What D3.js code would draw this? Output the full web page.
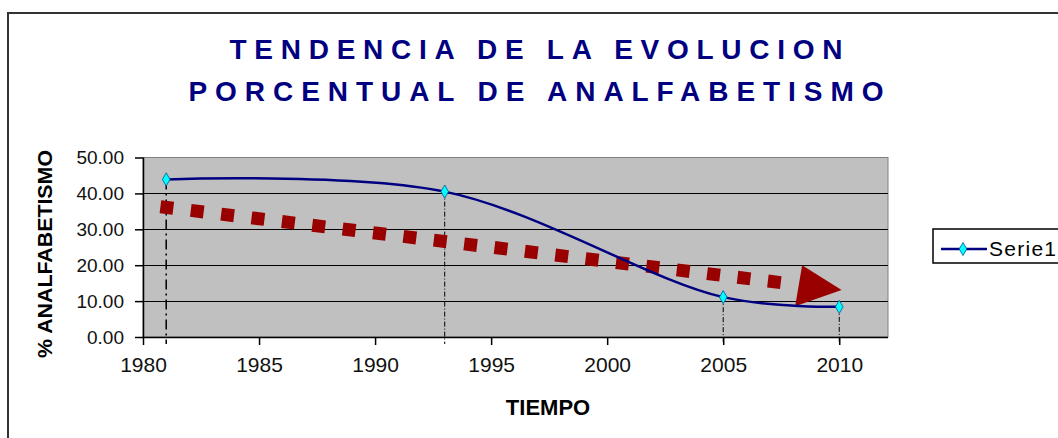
<!DOCTYPE html>
<html><head><meta charset="utf-8">
<script src="https://cdn.jsdelivr.net/npm/d3@7"></script>
<style>
body{margin:0;background:#fff;overflow:hidden}
svg{display:block}
text{font-family:"Liberation Sans",Arial,sans-serif}
</style>
</head><body>
<svg id="c" width="1058" height="438"></svg>
<script>
// ---- data ----
const titleLines = ["TENDENCIA DE LA EVOLUCION", "PORCENTUAL DE ANALFABETISMO"];
const years = [1981, 1993, 2005, 2010];
const serie1 = [43.9, 40.5, 11.1, 8.4];
const seriesName = "Serie1";
const xTicks = [1980, 1985, 1990, 1995, 2000, 2005, 2010];
const yTicks = [0, 10, 20, 30, 40, 50];
const xDomain = [1980, 2012.1];
const yDomain = [0, 50];
const xLabel = "TIEMPO";
const yLabel = "% ANALFABETISMO";
// trend arrow annotation (in data units: year, %)
const trendStart = [1980.75, 36.3];
const trendEnd = [2007.55, 15.1];
const arrowHead = [[2008.4, 20.0], [2010.1, 13.1], [2008.1, 8.6]];

// ---- layout ----
const svg = d3.select("#c");
const plot = {left: 143, right: 888, top: 157.5, bottom: 337};
const x = d3.scaleLinear().domain(xDomain).range([plot.left, plot.right]);
const y = d3.scaleLinear().domain(yDomain).range([plot.bottom, plot.top]);
const navy = "#000080", red = "#990000";

// outer frame
svg.append("rect").attr("x", 8).attr("y", 13).attr("width", 1070).attr("height", 450)
  .attr("fill", "none").attr("stroke", "#333").attr("stroke-width", 2);

// title
svg.selectAll(".title").data(titleLines).join("text")
  .attr("x", 536).attr("y", (d, i) => 59 + i * 42)
  .attr("text-anchor", "middle")
  .attr("font-size", 28).attr("font-weight", "bold").attr("fill", navy)
  .attr("textLength", (d, i) => [613, 695][i]).attr("lengthAdjust", "spacing")
  .text(d => d);

// plot background
svg.append("rect").attr("x", plot.left).attr("y", plot.top)
  .attr("width", plot.right - plot.left).attr("height", plot.bottom - plot.top)
  .attr("fill", "#C0C0C0").attr("stroke", "#808080").attr("stroke-width", 1);

// gridlines
svg.append("g").selectAll("line").data(yTicks.filter(d => d > 0 && d < 50)).join("line")
  .attr("x1", plot.left).attr("x2", plot.right)
  .attr("y1", d => Math.round(y(d)) + 0.5).attr("y2", d => Math.round(y(d)) + 0.5)
  .attr("stroke", "#000").attr("stroke-width", 1);

// axes
const yAxis = svg.append("g").attr("transform", `translate(${plot.left},0)`)
  .call(d3.axisLeft(y).tickValues(yTicks).tickFormat(d3.format(".2f")).tickSize(8).tickPadding(11));
yAxis.selectAll("text").attr("font-size", 19).attr("fill", "#111").style("font-family", '"Liberation Sans",Arial,sans-serif');
const xAxis = svg.append("g").attr("transform", `translate(0,${plot.bottom})`)
  .call(d3.axisBottom(x).tickValues(xTicks).tickFormat(d3.format("d")).tickSize(8).tickPadding(12).tickSizeOuter(0));
xAxis.selectAll("text").attr("font-size", 21).attr("fill", "#111").style("font-family", '"Liberation Sans",Arial,sans-serif');
[yAxis, xAxis].forEach(a => a.selectAll("path,line").attr("stroke", "#000").attr("stroke-width", 1.5));
yAxis.select(".domain").attr("d", `M0.5,${plot.top}V${plot.bottom}`);
xAxis.select(".domain").attr("d", `M${plot.left},0.5H${plot.right}`);

// axis titles
svg.append("text").attr("x", 548).attr("y", 415).attr("text-anchor", "middle")
  .attr("font-size", 22).attr("font-weight", "bold").attr("fill", "#000").text(xLabel);
svg.append("text").attr("transform", "translate(52,254) rotate(-90)").attr("text-anchor", "middle")
  .attr("font-size", 21).attr("font-weight", "bold").attr("fill", "#000")
  .attr("textLength", 208).attr("lengthAdjust", "spacingAndGlyphs").text(yLabel);

const pts = years.map((yr, i) => [yr, serie1[i]]);

// drop lines
const dropDash = ["10,4,2,4", "5,2,1,2", "5,2,1,2", "5,2,1,2"];
const dropWidth = [1.5, 1, 1, 1];
svg.append("g").selectAll("line").data(pts).join("line")
  .attr("x1", d => x(d[0])).attr("x2", d => x(d[0]))
  .attr("y1", d => y(d[1])).attr("y2", plot.bottom + 7)
  .attr("stroke", "#000").attr("stroke-width", (d, i) => dropWidth[i])
  .attr("stroke-dasharray", (d, i) => dropDash[i]);

// trend dotted arrow
svg.append("line")
  .attr("x1", x(trendStart[0])).attr("y1", y(trendStart[1]))
  .attr("x2", x(trendEnd[0])).attr("y2", y(trendEnd[1]))
  .attr("stroke", red).attr("stroke-width", 13).attr("stroke-dasharray", "13,17.6");
svg.append("path")
  .attr("d", d3.line().x(d => x(d[0])).y(d => y(d[1]))(arrowHead) + "Z")
  .attr("fill", red);

// series line
svg.append("path")
  .attr("d", d3.line().x(d => x(d[0])).y(d => y(d[1])).curve(d3.curveCatmullRom.alpha(0.5))(pts))
  .attr("fill", "none").attr("stroke", navy).attr("stroke-width", 2.5);

// markers
const diamond = d3.symbol().type(d3.symbolDiamond).size(50);
svg.append("g").selectAll("path").data(pts).join("path")
  .attr("transform", d => `translate(${x(d[0])},${y(d[1])})`)
  .attr("d", diamond).attr("fill", "#00FFFF").attr("stroke", "#0050a0").attr("stroke-width", 0.8);

// legend
const lg = svg.append("g");
lg.append("rect").attr("x", 933).attr("y", 229).attr("width", 140).attr("height", 34)
  .attr("fill", "#fff").attr("stroke", "#000").attr("stroke-width", 1.5);
lg.append("line").attr("x1", 941).attr("x2", 987).attr("y1", 249).attr("y2", 249)
  .attr("stroke", navy).attr("stroke-width", 2.5);
lg.append("path").attr("transform", "translate(963,249)").attr("d", diamond)
  .attr("fill", "#00FFFF").attr("stroke", "#0050a0").attr("stroke-width", 0.8);
lg.append("text").attr("x", 989).attr("y", 256).attr("font-size", 21).attr("fill", "#000")
  .attr("textLength", 67).attr("lengthAdjust", "spacing").text(seriesName);
</script>
</body></html>
